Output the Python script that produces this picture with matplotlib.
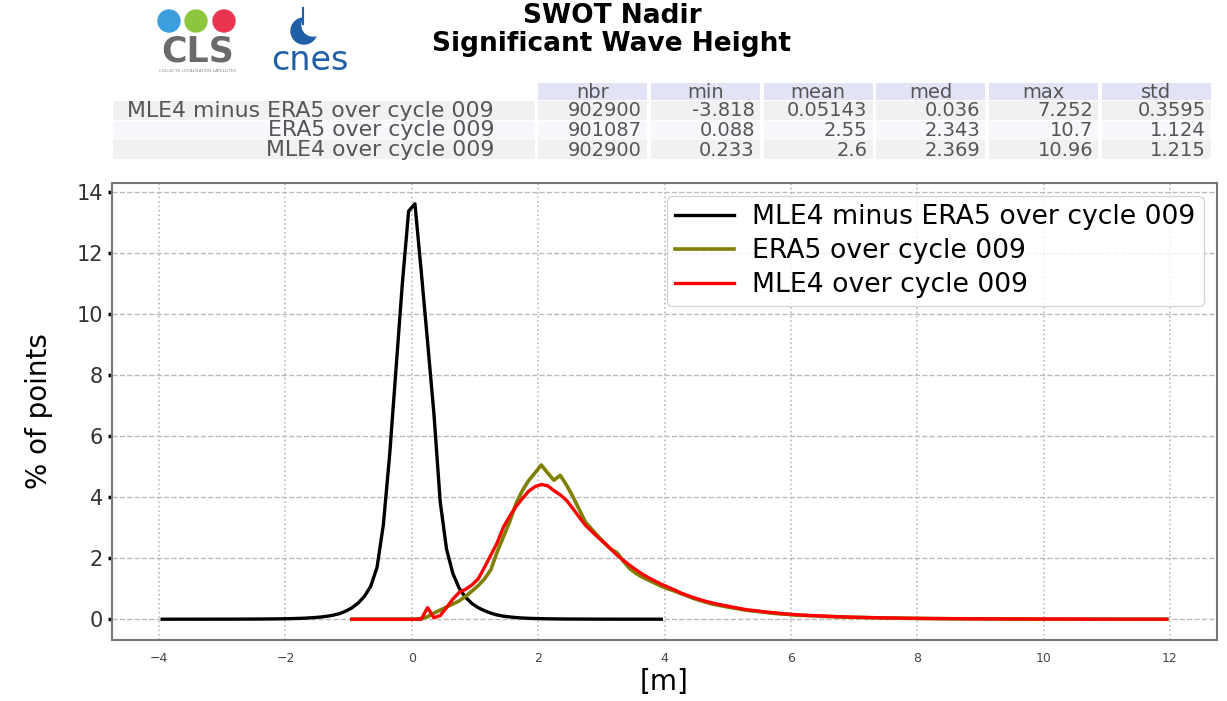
import numpy as np
import matplotlib
matplotlib.use("Agg")
import matplotlib.pyplot as plt
from matplotlib.patches import Rectangle, Circle

# bin centres (0.1 m bins)
x_diff = np.arange(-3.95, 4.0, 0.1)
x_swh = np.arange(-0.95, 12.0, 0.1)

# MLE4 minus ERA5, % of points
diff = [0.001, 0.001, 0.001, 0.001, 0.001, 0.002, 0.002, 0.002, 0.002, 0.003,
        0.003, 0.003, 0.004, 0.004, 0.005, 0.006, 0.007, 0.009, 0.011, 0.014,
        0.018, 0.023, 0.03, 0.04, 0.053, 0.07, 0.095, 0.13, 0.18, 0.26,
        0.37, 0.53, 0.75, 1.08, 1.7, 3.1, 5.4, 8.2, 11.0, 13.39,
        13.63, 11.4, 9.1, 6.75, 3.85, 2.3, 1.5, 1.02, 0.72, 0.52,
        0.38, 0.28, 0.2, 0.14, 0.1, 0.075, 0.055, 0.04, 0.03, 0.023,
        0.018, 0.014, 0.011, 0.009, 0.007, 0.006, 0.005, 0.004, 0.004, 0.003,
        0.003, 0.003, 0.002, 0.002, 0.002, 0.002, 0.001, 0.001, 0.001, 0.001]

# ERA5 SWH
era5 = [0, 0, 0, 0, 0, 0, 0, 0, 0, 0,
        0, 0.02, 0.08, 0.2, 0.3, 0.4, 0.5, 0.6, 0.75, 0.92,
        1.1, 1.32, 1.62, 2.2, 2.7, 3.2, 3.8, 4.22, 4.55, 4.8,
        5.06, 4.8, 4.56, 4.72, 4.4, 4.02, 3.6, 3.18, 2.95, 2.72,
        2.5, 2.3, 2.18, 1.9, 1.66, 1.5, 1.38, 1.28, 1.18, 1.08,
        1.0, 0.93, 0.85, 0.77, 0.69, 0.62, 0.56, 0.5, 0.46, 0.42,
        0.38, 0.35, 0.31, 0.28, 0.26, 0.24, 0.21, 0.19, 0.17, 0.16,
        0.14, 0.13, 0.12, 0.11, 0.1, 0.09, 0.085, 0.078, 0.07, 0.065,
        0.06, 0.055, 0.05, 0.046, 0.042, 0.038, 0.035, 0.032, 0.03, 0.027,
        0.025, 0.023, 0.021, 0.019, 0.017, 0.016, 0.015, 0.013, 0.012, 0.011,
        0.01, 0.009, 0.009, 0.008, 0.007, 0.007, 0.006, 0.006, 0.005, 0.005,
        0.004, 0.004, 0.003, 0.003, 0.002, 0.002, 0.001, 0.001, 0, 0,
        0, 0, 0, 0, 0, 0, 0, 0, 0, 0]

# MLE4 SWH
mle4 = [0, 0, 0, 0, 0, 0, 0, 0, 0, 0,
        0, 0, 0.38, 0.05, 0.12, 0.38, 0.66, 0.88, 0.98, 1.12,
        1.32, 1.7, 2.1, 2.5, 3.02, 3.38, 3.7, 3.96, 4.2, 4.35,
        4.42, 4.38, 4.22, 4.08, 3.9, 3.63, 3.35, 3.08, 2.88, 2.68,
        2.5, 2.3, 2.1, 1.93, 1.77, 1.62, 1.48, 1.36, 1.25, 1.15,
        1.06, 0.97, 0.87, 0.79, 0.72, 0.65, 0.59, 0.54, 0.49, 0.45,
        0.41, 0.37, 0.33, 0.3, 0.28, 0.25, 0.23, 0.21, 0.19, 0.17,
        0.155, 0.14, 0.13, 0.12, 0.11, 0.1, 0.09, 0.082, 0.075, 0.07,
        0.064, 0.058, 0.053, 0.049, 0.045, 0.041, 0.038, 0.035, 0.032, 0.029,
        0.027, 0.025, 0.023, 0.021, 0.019, 0.017, 0.016, 0.015, 0.014, 0.013,
        0.012, 0.011, 0.01, 0.009, 0.009, 0.008, 0.008, 0.007, 0.007, 0.006,
        0.006, 0.005, 0.005, 0.004, 0.004, 0.004, 0.003, 0.003, 0.003, 0.003,
        0.002, 0.002, 0.002, 0.002, 0.002, 0.001, 0.001, 0.001, 0.001, 0.001]

labels = ["MLE4 minus ERA5 over cycle 009", "ERA5 over cycle 009", "MLE4 over cycle 009"]
stat_names = ["nbr", "min", "mean", "med", "max", "std"]
stats = [["902900", "-3.818", "0.05143", "0.036", "7.252", "0.3595"],
         ["901087", "0.088", "2.55", "2.343", "10.7", "1.124"],
         ["902900", "0.233", "2.6", "2.369", "10.96", "1.215"]]

W, H = 1227, 701
fig = plt.figure(figsize=(W / 100, H / 100), dpi=100)

# header overlay in pixel coordinates
top = fig.add_axes([0, 0, 1, 1])
top.set_xlim(0, W)
top.set_ylim(H, 0)
top.axis("off")

# logos (rough)
for cx, col in zip([169, 196, 224], ["#3a9fdc", "#8cc63f", "#e8344e"]):
    top.add_patch(Circle((cx, 21), 11, color=col))
top.text(198, 52, "CLS", fontsize=25, color="#6a6a6a", ha="center", va="center",
         fontweight="bold")
top.text(198, 71, "COLLECTE LOCALISATION SATELLITES", fontsize=3, color="#888888",
         ha="center", va="center")
top.add_patch(Circle((304, 31), 13, color="#1f5fa8"))
top.add_patch(Circle((313, 25), 11, color="white"))
top.plot([303, 303], [8, 24], color="#1f5fa8", lw=1.5)
top.text(310, 60, "cnes", fontsize=24, color="#1f5fa8", ha="center", va="center")

top.text(612, 3, "SWOT Nadir\nSignificant Wave Height", fontsize=19, fontweight="bold",
         ha="center", va="top", linespacing=1.1)

# stats table
col_x0 = [538 + i * 112.8 for i in range(6)]
col_w = 109
for i, name in enumerate(stat_names):
    top.add_patch(Rectangle((col_x0[i], 83), col_w, 17, color="#e3e3f6", lw=0))
    top.text(col_x0[i] + col_w / 2, 92, name, fontsize=14, color="#555555",
             ha="center", va="center")
row_cols = ["#f1f1f1", "#f7f7fc", "#f1f1f1"]
for r in range(3):
    y0 = 101 + r * 19.5
    top.add_patch(Rectangle((113, y0), 422, 19, color=row_cols[r], lw=0))
    top.text(494, y0 + 10, labels[r], fontsize=15.8, color="#555555",
             ha="right", va="center")
    for i in range(6):
        top.add_patch(Rectangle((col_x0[i], y0), col_w, 19, color=row_cols[r], lw=0))
        top.text(col_x0[i] + col_w - 5, y0 + 10, stats[r][i], fontsize=14,
                 color="#555555", ha="right", va="center")

# main plot
ax = fig.add_axes([112 / W, 61 / H, 1105 / W, 457 / H])
ax.plot(x_diff, diff, color="black", lw=2.4, label=labels[0])
ax.plot(x_swh, era5, color="olive", lw=2.6, label=labels[1])
ax.plot(x_swh, mle4, color="red", lw=2.4, label=labels[2])

ax.set_yticks(range(0, 15, 2))
ax.set_xticks(range(-4, 13, 2))
ax.tick_params(axis="y", labelsize=15, length=3, width=2.5, colors="black",
               labelcolor="#333333")
ax.tick_params(axis="x", labelsize=9, length=0, labelcolor="#444444", pad=9)
ax.yaxis.grid(True, linestyle="--", color="#bbbbbb", lw=1)
ax.xaxis.grid(True, linestyle=":", color="#bbbbbb", lw=1.2)
for s in ax.spines.values():
    s.set_color("#777777")
    s.set_linewidth(1.5)
ax.set_ylabel("% of points", fontsize=20, labelpad=17)
ax.set_xlabel("[m]", fontsize=20, labelpad=2)
ax.legend(loc="upper right", fontsize=19.2, labelspacing=0.3, handlelength=2.2,
          handletextpad=0.7, borderpad=0.3)

fig.savefig("out.png", dpi=100)
